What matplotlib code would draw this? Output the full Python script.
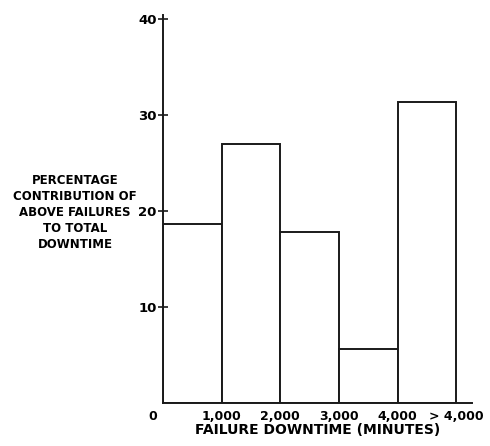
import matplotlib.pyplot as plt
from matplotlib.transforms import ScaledTranslation

# bins of failure downtime, last bin is "> 4,000"
bin_left = [0, 1, 2, 3, 4]
bin_width = [1, 1, 1, 1, 1]
pct = [18.7, 27.0, 17.8, 5.6, 31.4]
tick_pos = [0, 1, 2, 3, 4, 5]
tick_lbl = ['0', '1,000', '2,000', '3,000', '4,000', '> 4,000']
ytick_pos = [10, 20, 30, 40]

plt.rcParams['font.family'] = ['DejaVu Sans']
plt.rcParams['font.weight'] = 'bold'

fig = plt.figure(figsize=(4.9, 4.46), dpi=100)
ax = fig.add_axes([163/490, 1-402.7/446, 309/490, 382.7/446 + 0.012])

ax.bar(bin_left, pct, width=bin_width, align='edge', facecolor='white',
       edgecolor='#1a1a1a', linewidth=1.4)

ax.set_xlim(0, 5.27)
ax.set_ylim(0, 40.5)
for s in ['top', 'right']:
    ax.spines[s].set_visible(False)
ax.spines['left'].set_linewidth(1.4)
ax.spines['bottom'].set_linewidth(1.4)
ax.spines['left'].set_color('#1a1a1a')
ax.spines['bottom'].set_color('#1a1a1a')

ax.set_yticks(ytick_pos)
ax.set_yticklabels([str(v) for v in ytick_pos], fontsize=9.5, fontweight='bold')
ax.tick_params(axis='y', direction='inout', length=7, width=1.2, pad=1,
               color='#1a1a1a')
ax.set_xticks(tick_pos)
ax.set_xticklabels(tick_lbl, fontsize=9, fontweight='bold')
ax.tick_params(axis='x', length=0, pad=5)

# the "0" label sits left of the axis
lbl = ax.get_xticklabels()[0]
lbl.set_transform(lbl.get_transform() + ScaledTranslation(-10/100, 0, fig.dpi_scale_trans))

ax.set_xlabel('FAILURE DOWNTIME (MINUTES)', fontsize=10, fontweight='bold', labelpad=0)

fig.text(75/490, 1-213/446,
         'PERCENTAGE\nCONTRIBUTION OF\nABOVE FAILURES\nTO TOTAL\nDOWNTIME',
         ha='center', va='center', multialignment='center', fontsize=8.5,
         fontweight='bold', linespacing=1.3)

fig.savefig('out.png', dpi=100)
